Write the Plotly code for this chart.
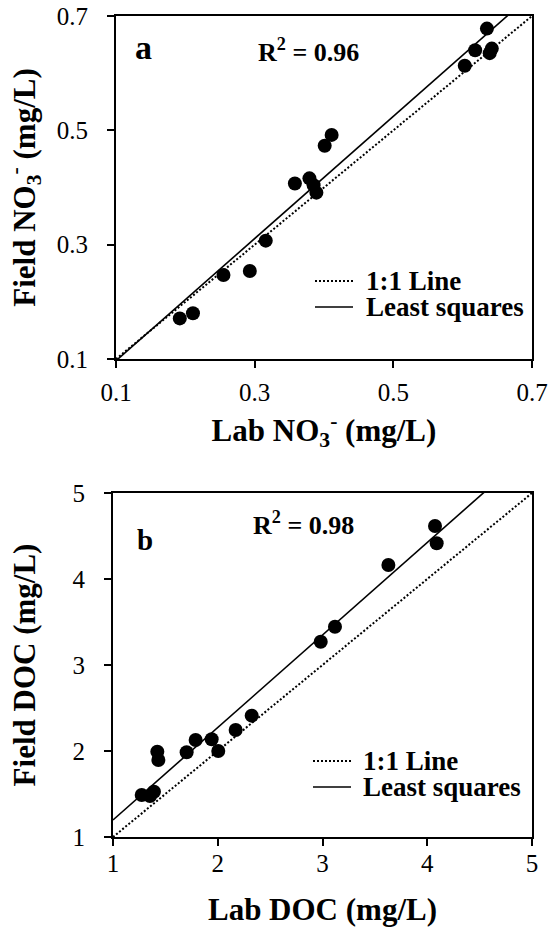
import plotly.graph_objects as go

# ---------------- data ----------------
nitrate_lab = [0.635, 0.618, 0.642, 0.639, 0.603, 0.411, 0.401, 0.358,
               0.379, 0.385, 0.389, 0.316, 0.293, 0.255, 0.211, 0.192]
nitrate_field = [0.678, 0.640, 0.643, 0.635, 0.613, 0.492, 0.473, 0.407,
                 0.416, 0.404, 0.391, 0.307, 0.254, 0.247, 0.180, 0.171]
nitrate_fit = [1.069, -0.010]      # slope, intercept
nitrate_r2 = "0.96"
nitrate_ticks = [0.1, 0.3, 0.5, 0.7]
nitrate_range = [0.1, 0.7]

doc_lab = [4.074, 4.090, 3.629, 3.119, 2.983, 2.324, 2.171, 1.942,
           1.789, 2.005, 1.703, 1.423, 1.433, 1.274, 1.353, 1.391]
doc_field = [4.616, 4.415, 4.163, 3.445, 3.271, 2.411, 2.244, 2.136,
             2.128, 2.000, 1.985, 1.992, 1.895, 1.488, 1.477, 1.527]
doc_fit = [1.0755, 0.1225]
doc_r2 = "0.98"
doc_ticks = [1, 2, 3, 4, 5]
doc_range = [1, 5]

legend_labels = ["1:1 Line", "Least squares"]

# ---------------- figure ----------------
W, H = 548, 928
FONT = "Liberation Serif, Times New Roman, serif"


def px_x(p):
    return p / W


def px_y(p):
    return 1 - p / H


fig = go.Figure()

panels = [
    dict(xa="x", ya="y", lab=nitrate_lab, field=nitrate_field, fit=nitrate_fit,
         rng=nitrate_range),
    dict(xa="x2", ya="y2", lab=doc_lab, field=doc_field, fit=doc_fit,
         rng=doc_range),
]

for p in panels:
    lo, hi = p["rng"]
    # 1:1 line
    fig.add_trace(go.Scatter(x=[lo, hi], y=[lo, hi], mode="lines",
                             line=dict(color="black", width=2, dash="2px,2px"),
                             xaxis=p["xa"], yaxis=p["ya"], showlegend=False,
                             hoverinfo="skip"))
    # least squares
    m, b = p["fit"]
    fig.add_trace(go.Scatter(x=[lo, hi], y=[m * lo + b, m * hi + b], mode="lines",
                             line=dict(color="black", width=1.6),
                             xaxis=p["xa"], yaxis=p["ya"], showlegend=False,
                             hoverinfo="skip"))
    # points
    fig.add_trace(go.Scatter(x=p["lab"], y=p["field"], mode="markers",
                             marker=dict(color="black", size=14, symbol="circle",
                                         line=dict(width=0)),
                             xaxis=p["xa"], yaxis=p["ya"], showlegend=False,
                             cliponaxis=False))

axis_common = dict(showline=True, linecolor="black", linewidth=2, mirror=True,
                   ticks="outside", ticklen=7, tickwidth=2, tickcolor="black",
                   showgrid=False, zeroline=False, automargin=False,
                   tickfont=dict(family=FONT, size=25, color="black"))

title_font = dict(family=FONT, size=31, color="black")

fig.update_layout(
    template="none",
    width=W, height=H,
    margin=dict(l=0, r=0, t=0, b=0, autoexpand=False),
    paper_bgcolor="white", plot_bgcolor="white",
    showlegend=False,
    xaxis=dict(domain=[px_x(116), px_x(532)], range=nitrate_range,
               tickvals=nitrate_ticks, ticktext=[f"{v:.1f}" for v in nitrate_ticks],
               anchor="y", ticklabelstandoff=3,
               title=dict(text="<b>Lab NO<sub>3</sub><sup>-</sup> (mg/L)</b>",
                          font=title_font, standoff=14),
               **axis_common),
    yaxis=dict(domain=[px_y(359), px_y(16)], range=nitrate_range,
               tickvals=nitrate_ticks, ticktext=[f"{v:.1f}" for v in nitrate_ticks],
               anchor="x", ticklabelstandoff=14,
               title=dict(text="<b>Field NO<sub>3</sub><sup>-</sup> (mg/L)</b>",
                          font=title_font, standoff=12),
               **axis_common),
    xaxis2=dict(domain=[px_x(113), px_x(532)], range=doc_range,
                tickvals=doc_ticks, ticktext=[str(v) for v in doc_ticks],
                anchor="y2", ticklabelstandoff=-4,
                title=dict(text="<b>Lab DOC (mg/L)</b>", font=title_font, standoff=22),
                **axis_common),
    yaxis2=dict(domain=[px_y(837), px_y(493)], range=doc_range,
                tickvals=doc_ticks, ticktext=[str(v) for v in doc_ticks],
                anchor="x2", ticklabelstandoff=14,
                title=dict(text="<b>Field DOC (mg/L)</b>", font=title_font, standoff=28),
                **axis_common),
)

annotations = [
    dict(text="<b>a</b>", x=px_x(143), y=px_y(48), font=dict(family=FONT, size=34)),
    dict(text=f"<b>R<sup>2</sup> = {nitrate_r2}</b>", x=px_x(308), y=px_y(50),
         font=dict(family=FONT, size=26)),
    dict(text="<b>b</b>", x=px_x(145), y=px_y(540), font=dict(family=FONT, size=29)),
    dict(text=f"<b>R<sup>2</sup> = {doc_r2}</b>", x=px_x(303), y=px_y(523),
         font=dict(family=FONT, size=26)),
]
for a in annotations:
    a.update(xref="paper", yref="paper", showarrow=False, xanchor="center",
             yanchor="middle")
    a["font"]["color"] = "black"

# legends (text + sample lines)
legend_pos = [  # (sample x0, sample x1, text x, y row1, y row2)
    (315, 353, 364, 281, 307),
    (313, 351, 361, 761, 787),
]
shapes = []
for (sx0, sx1, tx, y1, y2) in legend_pos:
    for lbl, yy, dash, w in [(legend_labels[0], y1, "2px,2px", 2),
                             (legend_labels[1], y2, "solid", 1.6)]:
        annotations.append(dict(text=f"<b>{lbl}</b>", x=px_x(tx), y=px_y(yy),
                                xref="paper", yref="paper", showarrow=False,
                                xanchor="left", yanchor="middle",
                                font=dict(family=FONT, size=27, color="black")))
        shapes.append(dict(type="line", xref="paper", yref="paper",
                           x0=px_x(sx0), x1=px_x(sx1), y0=px_y(yy), y1=px_y(yy),
                           line=dict(color="black", width=w, dash=dash)))

fig.update_layout(annotations=annotations, shapes=shapes)

fig.write_html("out.html")
